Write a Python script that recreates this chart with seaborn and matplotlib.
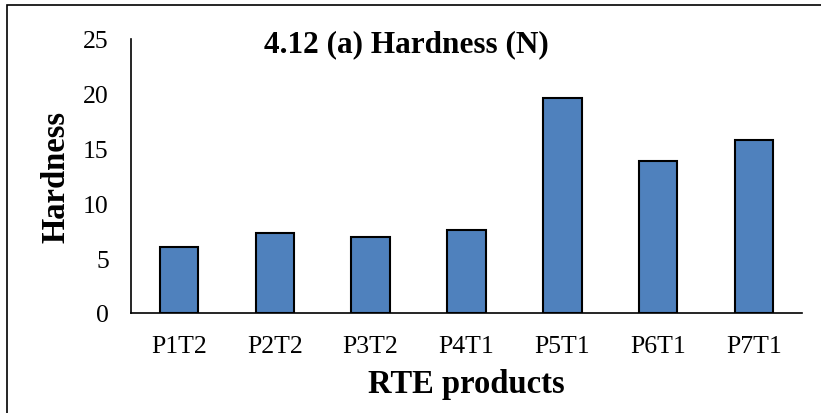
import numpy as np
import pandas as pd
import matplotlib
matplotlib.use("Agg")
import matplotlib.pyplot as plt
import seaborn as sns

products = ["P1T2", "P2T2", "P3T2", "P4T1", "P5T1", "P6T1", "P7T1"]
hardness = [6.0, 7.3, 6.9, 7.6, 19.6, 13.9, 15.8]

df = pd.DataFrame({"product": products, "hardness": hardness})

sns.set_style("white", {"text.color": "black", "axes.labelcolor": "black",
                        "xtick.color": "black", "ytick.color": "black"})
plt.rcParams["font.family"] = ["Liberation Serif", "DejaVu Serif"]

fig = plt.figure(figsize=(8.21, 4.14), dpi=100)
ax = fig.add_axes([131 / 821, 1 - 314 / 414, (802 - 131) / 821, (314 - 40) / 414])

sns.barplot(data=df, x="product", y="hardness", color="#4F81BD",
            saturation=1, width=0.4, edgecolor="black", linewidth=1.5, ax=ax)

ax.set_ylim(0, 25)
ax.set_yticks(np.arange(0, 26, 5))
ax.set_xlim(-0.5, len(products) - 0.5)
# category boundaries get the tick marks, names sit between them
ax.set_xticks(np.arange(-0.5, len(products), 1))
ax.set_xticklabels([])
ax.set_xticks(np.arange(len(products)), minor=True)
ax.set_xticklabels(products, minor=True)
ax.tick_params(axis="x", which="major", direction="out", length=6, width=1.2, color="black")
ax.tick_params(axis="x", which="minor", length=0, pad=16, labelsize=18.5, labelcolor="black")
ax.tick_params(axis="y", direction="out", length=6, width=1.2, color="black",
               labelsize=18.5, pad=10, labelcolor="black")

for side in ["top", "right"]:
    ax.spines[side].set_visible(False)
for side in ["left", "bottom"]:
    ax.spines[side].set_color("black")
    ax.spines[side].set_linewidth(1.2)

ax.set_xlabel("RTE products", fontsize=23.5, fontweight="bold", labelpad=8, color="black")
ax.set_ylabel("Hardness", fontsize=23.5, fontweight="bold", labelpad=8, color="black")
ax.text(0.411, 0.956, "4.12 (a) Hardness (N)", transform=ax.transAxes,
        ha="center", va="baseline", fontsize=22.5, fontweight="bold", color="black")

# frame round the chart, cut off at the right and bottom edges
fig.patches.append(plt.Rectangle((7 / 821, -0.05), 1.0, 1 - 6 / 414 + 0.05,
                                 transform=fig.transFigure, fill=False,
                                 edgecolor="black", linewidth=1.2))

fig.savefig("out.png", dpi=100)
